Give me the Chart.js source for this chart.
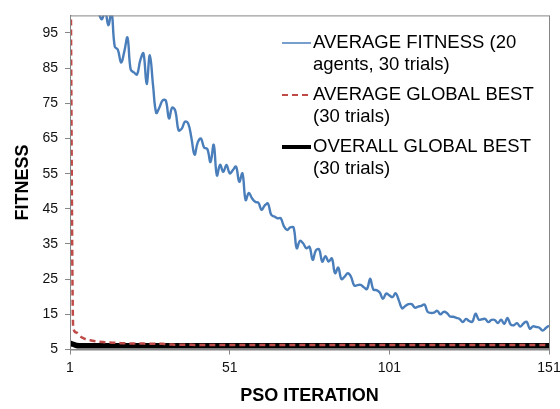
<!DOCTYPE html>
<html lang="en">
<head>
<meta charset="UTF-8">
<title>PSO Fitness</title>
<script src="https://cdn.jsdelivr.net/npm/chart.js"></script>
<style>
  html, body { margin: 0; padding: 0; background: #fff; }
  #wrap { width: 560px; height: 409px; }
</style>
</head>
<body>
<div id="wrap"><canvas id="psoChart" width="560" height="409"></canvas></div>
<script>
// x categories: PSO iterations 1..151
const iterations = [];
for (let i = 1; i <= 151; i++) iterations.push(i);

const xTicks = [1, 51, 101, 151];
const yTicks = [5, 15, 25, 35, 45, 55, 65, 75, 85, 95];

const seriesNames = [
  ['AVERAGE FITNESS (20', 'agents, 30 trials)'],
  ['AVERAGE GLOBAL BEST', '(30 trials)'],
  ['OVERALL GLOBAL BEST', '(30 trials)']
];

const avgFitness = [
  160, 140, 127, 118, 112, 108, 105, 103, 102, 100.5,
  98.9, 101.5, 97.2, 101, 91.2, 90.2, 86.6, 89.7, 93.7, 84.6,
  83.8, 83.2, 87.2, 89.2, 80.5, 88.7, 80.2, 72.3, 73.8, 75.8,
  75.8, 70.7, 73.8, 72.8, 67.3, 67.8, 69.8, 69.3, 65.3, 60.4,
  63.9, 65, 62.4, 62, 58.3, 63.2, 54.5, 57.5, 55.5, 57.5,
  55.1, 56, 57, 52.7, 55.1, 47.5, 49.5, 48, 47, 46.7,
  44.7, 46, 46.5, 43.3, 42.8, 42.3, 42.3, 40, 39, 39.7,
  39.7, 33.8, 35.9, 35.2, 33.8, 34.2, 30.5, 33.2, 33.5, 30,
  31.5, 30, 30.9, 26.7, 28.3, 25, 25.7, 26.7, 25.7, 23.2,
  23.3, 23.4, 22.7, 22.2, 25.1, 22, 21.9, 21.2, 19.4, 20.9,
  20.4, 19.9, 21, 18.9, 16.7, 17.4, 17.9, 17.9, 16.9, 17.2,
  17.4, 17.8, 15.7, 15.4, 15.5, 16, 15, 15.7, 15.4, 14.4,
  14.3, 14, 13.7, 12.8, 13.7, 13.1, 12.9, 15.2, 13.5, 13.6,
  13.7, 12.8, 13.4, 13.4, 12.5, 13.5, 12.3, 14, 12.1, 11.9,
  12.5, 11.5, 12.4, 12.9, 10.9, 11.6, 11.4, 11.2, 10.4, 11.1,
  11.8
];

const avgGlobalBest = [
  150, 11.2, 9.8, 8.9, 8.3, 7.9, 7.7, 7.5, 7.35, 7.25,
  7.15, 7.05, 7, 6.95, 6.9, 6.85, 6.8, 6.78, 6.75, 6.72,
  6.7, 6.7, 6.68, 6.68, 6.66, 6.65, 6.64, 6.62, 6.61, 6.6,
  6.5, 6.45, 6.4, 6.38, 6.36, 6.35, 6.34, 6.33, 6.32, 6.31,
  6.3, 6.3, 6.3, 6.3, 6.3, 6.3, 6.3, 6.3, 6.3, 6.3,
  6.3, 6.3, 6.3, 6.3, 6.3, 6.3, 6.3, 6.3, 6.3, 6.3,
  6.3, 6.3, 6.3, 6.3, 6.3, 6.3, 6.3, 6.3, 6.3, 6.3,
  6.3, 6.3, 6.3, 6.3, 6.3, 6.3, 6.3, 6.3, 6.3, 6.3,
  6.3, 6.3, 6.3, 6.3, 6.3, 6.3, 6.3, 6.3, 6.3, 6.3,
  6.3, 6.3, 6.3, 6.3, 6.3, 6.3, 6.3, 6.3, 6.3, 6.3,
  6.3, 6.3, 6.3, 6.3, 6.3, 6.3, 6.3, 6.3, 6.3, 6.3,
  6.3, 6.3, 6.3, 6.3, 6.3, 6.3, 6.3, 6.3, 6.3, 6.3,
  6.3, 6.3, 6.3, 6.3, 6.3, 6.3, 6.3, 6.3, 6.3, 6.3,
  6.3, 6.3, 6.3, 6.3, 6.3, 6.3, 6.3, 6.3, 6.3, 6.3,
  6.3, 6.3, 6.3, 6.3, 6.3, 6.3, 6.3, 6.3, 6.3, 6.3,
  6.3
];

const overallGlobalBest = [
  6.8, 6.5, 6.15, 6.1, 6.1, 6.1, 6.1, 6.1, 6.1, 6.1,
  6.1, 6.1, 6.1, 6.1, 6.1, 6.1, 6.1, 6.1, 6.1, 6.1,
  6.1, 6.1, 6.1, 6.1, 6.1, 6.1, 6.1, 6.1, 6.1, 6.1,
  6.1, 6.1, 6.1, 6.1, 6.1, 6.1, 6.1, 6.1, 6.1, 6.1,
  6.1, 6.1, 6.1, 6.1, 6.1, 6.1, 6.1, 6.1, 6.1, 6.1,
  6.1, 6.1, 6.1, 6.1, 6.1, 6.1, 6.1, 6.1, 6.1, 6.1,
  6.1, 6.1, 6.1, 6.1, 6.1, 6.1, 6.1, 6.1, 6.1, 6.1,
  6.1, 6.1, 6.1, 6.1, 6.1, 6.1, 6.1, 6.1, 6.1, 6.1,
  6.1, 6.1, 6.1, 6.1, 6.1, 6.1, 6.1, 6.1, 6.1, 6.1,
  6.1, 6.1, 6.1, 6.1, 6.1, 6.1, 6.1, 6.1, 6.1, 6.1,
  6.1, 6.1, 6.1, 6.1, 6.1, 6.1, 6.1, 6.1, 6.1, 6.1,
  6.1, 6.1, 6.1, 6.1, 6.1, 6.1, 6.1, 6.1, 6.1, 6.1,
  6.1, 6.1, 6.1, 6.1, 6.1, 6.1, 6.1, 6.1, 6.1, 6.1,
  6.1, 6.1, 6.1, 6.1, 6.1, 6.1, 6.1, 6.1, 6.1, 6.1,
  6.1, 6.1, 6.1, 6.1, 6.1, 6.1, 6.1, 6.1, 6.1, 6.1,
  6.1
];

const FONT = '"Liberation Sans", Arial, sans-serif';
const AXIS_GRAY = '#868686';
const legendWidths = [1.5, 2, 4];

// box round the plot area (Excel style)
const frame = {
  id: 'frame',
  afterDatasetsDraw(chart) {
    const { ctx, chartArea: a } = chart;
    ctx.save();
    ctx.strokeStyle = AXIS_GRAY;
    ctx.lineWidth = 1;
    ctx.strokeRect(a.left + 0.5, a.top + 0.5, a.right - a.left, a.bottom - a.top);
    ctx.restore();
  }
};

// legend drawn inside the plot, two text lines per entry
const insideLegend = {
  id: 'insideLegend',
  afterDraw(chart) {
    const ctx = chart.ctx;
    ctx.save();
    ctx.font = '18.5px ' + FONT;
    ctx.textBaseline = 'middle';
    ctx.textAlign = 'left';
    chart.data.datasets.forEach((ds, i) => {
      const y0 = 43 + i * 52;
      ctx.strokeStyle = ds.borderColor;
      ctx.lineWidth = legendWidths[i];
      ctx.setLineDash(ds.borderDash || []);
      ctx.beginPath();
      ctx.moveTo(282, y0);
      ctx.lineTo(311, y0);
      ctx.stroke();
      ctx.setLineDash([]);
      ctx.fillStyle = '#000';
      seriesNames[i].forEach((line, j) => ctx.fillText(line, 313, y0 + j * 21.5));
    });
    ctx.restore();
  }
};

new Chart(document.getElementById('psoChart'), {
  type: 'line',
  data: {
    labels: iterations,
    datasets: [
      {
        label: seriesNames[0].join(' '),
        data: avgFitness,
        borderColor: '#4a7ebb',
        borderWidth: 2.4,
        tension: 0.4
      },
      {
        label: seriesNames[1].join(' '),
        data: avgGlobalBest,
        borderColor: '#be4b48',
        borderWidth: 2.5,
        borderDash: [6, 4],
        cubicInterpolationMode: 'monotone'
      },
      {
        label: seriesNames[2].join(' '),
        data: overallGlobalBest,
        borderColor: '#000',
        borderWidth: 5.5,
        cubicInterpolationMode: 'monotone'
      }
    ]
  },
  options: {
    responsive: false,
    animation: false,
    layout: { padding: { top: 10, right: 11, left: 0, bottom: 0 } },
    elements: { point: { radius: 0 } },
    plugins: {
      legend: { display: false },
      tooltip: { enabled: false }
    },
    scales: {
      x: {
        type: 'linear',
        min: 1,
        max: 151,
        afterBuildTicks: s => { s.ticks = xTicks.map(v => ({ value: v })); },
        afterFit: s => { s.height = 59.5; s.paddingRight = 0; s.paddingLeft = 0; },
        grid: { drawOnChartArea: false, tickLength: 5, color: AXIS_GRAY },
        border: { color: AXIS_GRAY },
        ticks: { font: { family: FONT, size: 14 }, color: '#111', padding: 5, maxRotation: 0 },
        title: {
          display: true,
          text: 'PSO ITERATION',
          font: { family: FONT, size: 18, weight: 'bold' },
          color: '#000',
          padding: { top: 0, bottom: 2 }
        }
      },
      y: {
        min: 5,
        max: 100,
        afterBuildTicks: s => { s.ticks = yTicks.map(v => ({ value: v })); },
        afterFit: s => { s.width = 70; },
        grid: { drawOnChartArea: false, tickLength: 5, color: AXIS_GRAY },
        border: { color: AXIS_GRAY },
        ticks: { font: { family: FONT, size: 14 }, color: '#111', padding: 7 },
        title: {
          display: true,
          text: 'FITNESS',
          font: { family: FONT, size: 18, weight: 'bold' },
          color: '#000',
          padding: { top: 12, bottom: 0 }
        }
      }
    }
  },
  plugins: [frame, insideLegend]
});
</script>
</body>
</html>
